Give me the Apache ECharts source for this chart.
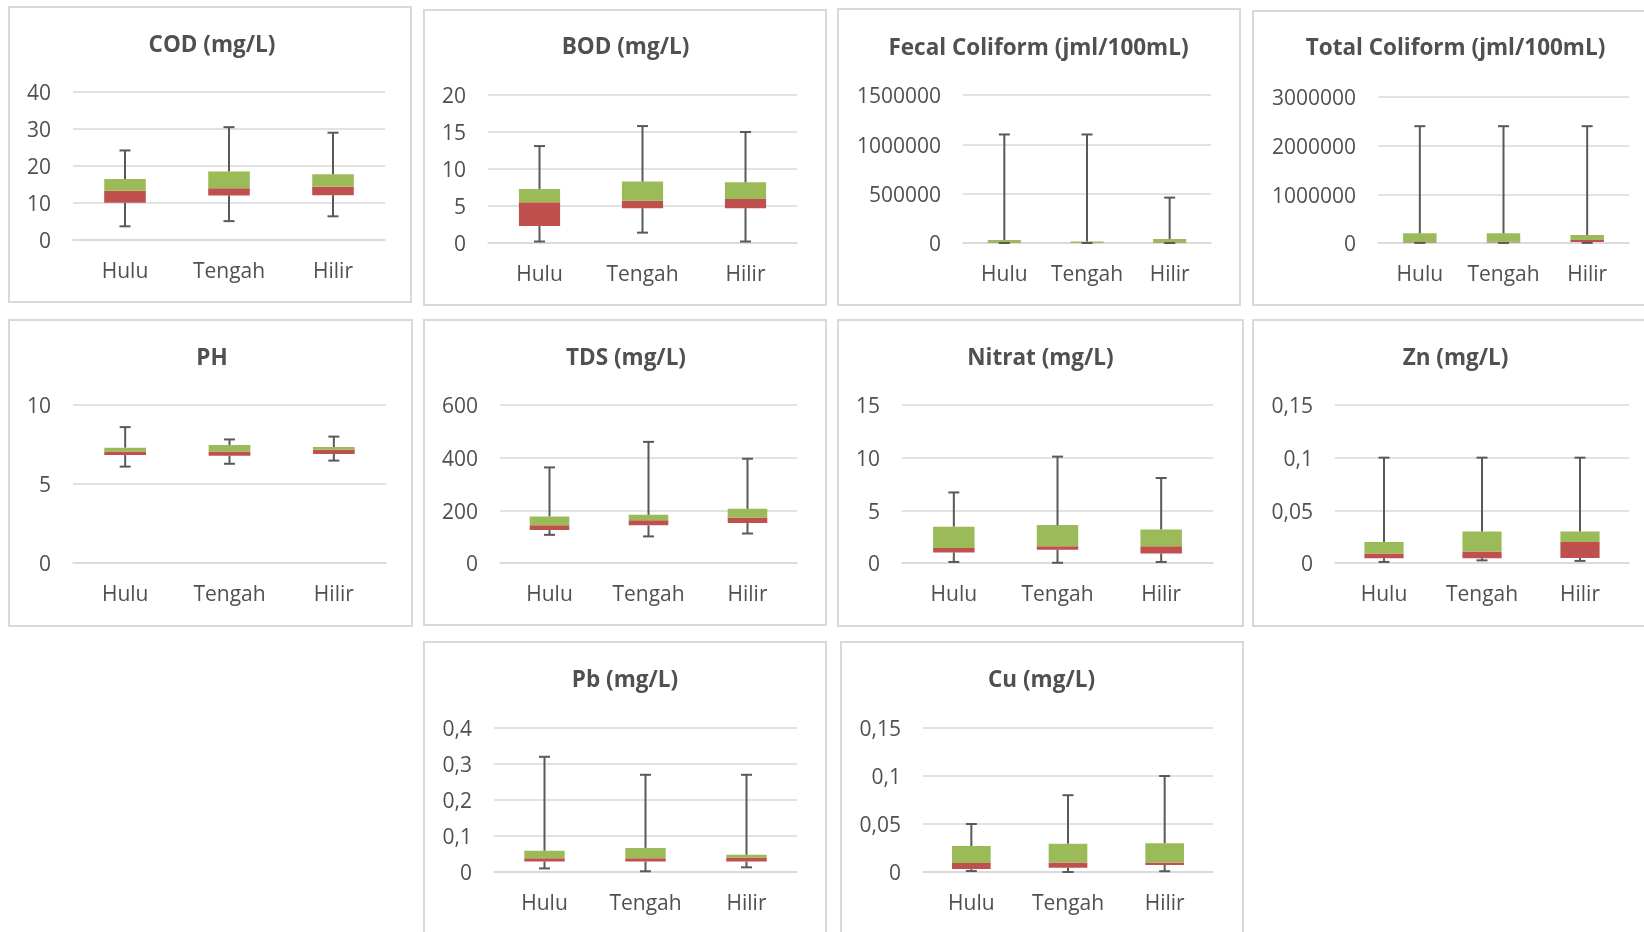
<!DOCTYPE html>
<html>
<head>
<meta charset="utf-8">
<script src="https://cdn.jsdelivr.net/npm/echarts@6/dist/echarts.min.js"></script>
<style>
  html, body { margin: 0; padding: 0; background: #ffffff; }
  #chart { width: 1644px; height: 932px; }
</style>
</head>
<body>
<div id="chart"></div>
<script>
// ---------- DATA ----------
const categories = ['Hulu', 'Tengah', 'Hilir'];

// each row: [min, Q1, median, Q3, max] for Hulu, Tengah, Hilir
const codStats    = [[3.7, 10.1, 13.3, 16.5, 24.2], [5.1, 12.0, 14.0, 18.5, 30.5], [6.4, 12.1, 14.4, 17.8, 29.0]];
const bodStats    = [[0.2, 2.3, 5.5, 7.3, 13.1], [1.4, 4.7, 5.7, 8.3, 15.8], [0.2, 4.7, 5.95, 8.2, 15.0]];
const fecalStats  = [[0, 1000, 4000, 30000, 1100000], [0, 500, 2000, 15000, 1100000], [0, 1000, 4000, 40000, 460000]];
const totalStats  = [[2000, 5000, 15000, 200000, 2400000], [2000, 9000, 24000, 200000, 2400000], [2000, 20000, 64000, 165000, 2400000]];
const phStats     = [[6.1, 6.83, 7.06, 7.3, 8.6], [6.28, 6.79, 7.06, 7.47, 7.82], [6.48, 6.9, 7.17, 7.34, 8.0]];
const tdsStats    = [[107, 125, 143, 177, 363], [101, 143, 162, 183, 460], [112, 152, 173, 206, 396]];
const nitratStats = [[0.1, 1.0, 1.42, 3.45, 6.7], [0.02, 1.26, 1.58, 3.6, 10.1], [0.1, 0.91, 1.58, 3.19, 8.07]];
const znStats     = [[0.001, 0.0045, 0.009, 0.02, 0.1], [0.0025, 0.0044, 0.011, 0.03, 0.1], [0.002, 0.0047, 0.02, 0.03, 0.1]];
const pbStats     = [[0.01, 0.029, 0.038, 0.059, 0.32], [0.002, 0.029, 0.038, 0.067, 0.27], [0.013, 0.029, 0.04, 0.048, 0.27]];
const cuStats     = [[0.001, 0.003, 0.0094, 0.027, 0.05], [0.0, 0.0045, 0.01, 0.0294, 0.08], [0.0008, 0.0073, 0.01, 0.03, 0.1]];

const titles = ['COD (mg/L)', 'BOD (mg/L)', 'Fecal Coliform (jml/100mL)', 'Total Coliform (jml/100mL)',
                'PH', 'TDS (mg/L)', 'Nitrat (mg/L)', 'Zn (mg/L)', 'Pb (mg/L)', 'Cu (mg/L)'];
const statsList = [codStats, bodStats, fecalStats, totalStats, phStats, tdsStats, nitratStats, znStats, pbStats, cuStats];

// y-axis tick scales: [min, max, interval]
const axisMin      = [0, 0, 0, 0, 0, 0, 0, 0, 0, 0];
const axisMax      = [40, 20, 1500000, 3000000, 10, 600, 15, 0.15, 0.4, 0.15];
const axisInterval = [10, 5, 500000, 1000000, 5, 200, 5, 0.05, 0.1, 0.05];

// ---------- LAYOUT ----------
// plot areas [left, top, width, height]
const gridRects = [
  [73, 92, 312, 148], [488, 95, 309, 148], [963, 95, 248, 148], [1378, 97, 251, 146],
  [73, 405, 313, 158], [500, 405, 297, 158], [902, 405, 311, 158], [1335, 405, 294, 158],
  [494, 728, 303, 144], [923, 728, 290, 144]
];
// panel borders [x, y, w, h]
const panelRects = [
  [9, 7, 402, 295], [424, 10, 402, 295], [838, 9, 402, 296], [1253, 11, 420, 294],
  [9, 320, 403, 306], [424, 320, 402, 305], [838, 320, 405, 306], [1253, 320, 420, 306],
  [424, 642, 402, 320], [841, 642, 402, 320]
];
// title centers [x, y]
const titlePos = [
  [212, 45.5], [625.5, 48], [1038.5, 48.5], [1455.5, 49],
  [212, 358.5], [626, 358.5], [1040.5, 358.5], [1455.5, 358.5],
  [625, 681], [1041.5, 681]
];

const FONT = 'Open Sans';
const TEXT = '#505050';
const GRIDC = '#D9D9D9';
const RED = '#C0504D';
const GREEN = '#9BBB59';

function fmt(v) { return '{t|' + String(+v.toFixed(6)).replace('.', ',') + '}'; }

function renderWhisker(params, api) {
  const x = api.value(0);
  const pMin = api.coord([x, api.value(1)]);
  const pQ1 = api.coord([x, api.value(2)]);
  const pQ3 = api.coord([x, api.value(3)]);
  const pMax = api.coord([x, api.value(4)]);
  const cap = 5.5;
  const style = { stroke: '#595959', lineWidth: 2, fill: null };
  return {
    type: 'group',
    children: [
      { type: 'line', shape: { x1: pQ3[0], y1: pQ3[1], x2: pMax[0], y2: pMax[1] }, style: style },
      { type: 'line', shape: { x1: pMax[0] - cap, y1: pMax[1], x2: pMax[0] + cap, y2: pMax[1] }, style: style },
      { type: 'line', shape: { x1: pQ1[0], y1: pQ1[1], x2: pMin[0], y2: pMin[1] }, style: style },
      { type: 'line', shape: { x1: pMin[0] - cap, y1: pMin[1], x2: pMin[0] + cap, y2: pMin[1] }, style: style }
    ]
  };
}

const grid = [], xAxis = [], yAxis = [], series = [], title = [], graphic = [];

statsList.forEach(function (stats, i) {
  const g = gridRects[i];
  grid.push({ left: g[0], top: g[1], width: g[2], height: g[3], containLabel: false });
  xAxis.push({
    gridIndex: i, type: 'category', data: categories,
    axisTick: { show: false },
    axisLine: { lineStyle: { color: GRIDC, width: 1.5 } },
    axisLabel: { color: TEXT, fontFamily: FONT, fontSize: 21, margin: 22, interval: 0, hideOverlap: false }
  });
  yAxis.push({
    gridIndex: i, type: 'value', min: axisMin[i], max: axisMax[i], interval: axisInterval[i],
    axisLine: { show: false }, axisTick: { show: false },
    splitLine: { lineStyle: { color: GRIDC, width: 1.5 } },
    axisLabel: {
      color: TEXT, fontFamily: FONT, fontSize: 21, margin: 22, formatter: fmt,
      rich: { t: { color: TEXT, fontFamily: FONT, fontSize: 21, padding: [5, 0, 0, 0] } }
    }
  });
  const stack = 'box' + i;
  series.push({
    type: 'bar', xAxisIndex: i, yAxisIndex: i, stack: stack, barWidth: '40%', silent: true,
    itemStyle: { color: 'rgba(0,0,0,0)' },
    data: stats.map(function (s) { return s[1]; })
  });
  series.push({
    type: 'bar', xAxisIndex: i, yAxisIndex: i, stack: stack, barWidth: '40%', silent: true,
    itemStyle: { color: RED },
    data: stats.map(function (s) { return s[2] - s[1]; })
  });
  series.push({
    type: 'bar', xAxisIndex: i, yAxisIndex: i, stack: stack, barWidth: '40%', silent: true,
    itemStyle: { color: GREEN },
    data: stats.map(function (s) { return s[3] - s[2]; })
  });
  series.push({
    type: 'custom', xAxisIndex: i, yAxisIndex: i, silent: true, z: 3,
    renderItem: renderWhisker,
    encode: { x: 0, y: [1, 2, 3, 4] },
    data: stats.map(function (s, k) { return [k, s[0], s[1], s[3], s[4]]; })
  });
  title.push({
    text: titles[i], left: titlePos[i][0], top: titlePos[i][1], padding: 0,
    textAlign: 'center', textVerticalAlign: 'middle',
    textStyle: { color: TEXT, fontFamily: FONT, fontSize: 22.5, fontWeight: 'bold' }
  });
  const p = panelRects[i];
  graphic.push({
    type: 'rect', silent: true, z: -10,
    shape: { x: p[0], y: p[1], width: p[2], height: p[3] },
    style: { fill: '#ffffff', stroke: GRIDC, lineWidth: 2 }
  });
});

const chart = echarts.init(document.getElementById('chart'), null, { renderer: 'canvas' });
chart.setOption({
  backgroundColor: '#ffffff',
  animation: false,
  title: title,
  grid: grid,
  xAxis: xAxis,
  yAxis: yAxis,
  series: series,
  graphic: { elements: graphic }
});
</script>
</body>
</html>
